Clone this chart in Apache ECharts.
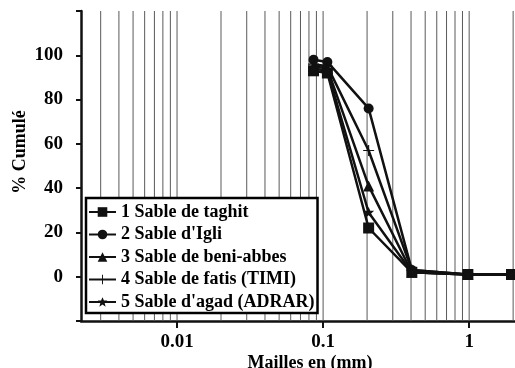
<!DOCTYPE html>
<html>
<head>
<meta charset="utf-8">
<script src="https://cdn.jsdelivr.net/npm/echarts@6/dist/echarts.min.js"></script>
<style>
  html, body { margin: 0; padding: 0; background: #fff; }
  #chart { width: 515px; height: 368px; }
</style>
</head>
<body>
<div id="chart"></div>
<script>
// tamis (mm) et pourcentages cumulés
const sizes = [0.086, 0.107, 0.205, 0.405, 0.98, 1.95]
const taghit = [93, 92, 22, 2, 1, 1]
const igli = [98, 97, 76, 3, 1, 1]
const beniAbbes = [95, 94, 41, 2, 1, 1]
const fatis = [96, 95, 57, 3, 1, 1]
const agad = [94, 93, 29, 2, 1, 1]

const seriesNames = [
  '1 Sable de taghit',
  "2 Sable d'Igli",
  '3 Sable de beni-abbes',
  '4 Sable de fatis (TIMI)',
  "5 Sable d'agad (ADRAR)",
]

// lignes verticales du papier log
const gridLines = [
  0.003, 0.004, 0.005, 0.006, 0.007, 0.008, 0.009,
  0.01, 0.02, 0.03, 0.04, 0.05, 0.06, 0.07, 0.08, 0.09,
  0.1, 0.2, 0.3, 0.4, 0.5, 0.6, 0.7, 0.8, 0.9,
  1, 2,
]

const font = "'Liberation Serif', 'Times New Roman', serif"
const ink = '#111'

const plusPath = 'path://M-1,-10H1V-1H10V1H1V10H-1V1H-10V-1H-1Z'
const starPath = 'path://M0,-10L3,-3L10,-3L4.5,2L6.5,10L0,5L-6.5,10L-4.5,2L-10,-3L-3,-3Z'

const symbols = [
  { symbol: 'rect', size: 11 },
  { symbol: 'circle', size: 10 },
  { symbol: 'triangle', size: 11 },
  { symbol: plusPath, size: 11 },
  { symbol: starPath, size: 11 },
]

const allValues = [taghit, igli, beniAbbes, fatis, agad]

const chart = echarts.init(document.getElementById('chart'), null, { renderer: 'canvas' })

const isDecade = (v) => Math.abs(Math.log10(v) - Math.round(Math.log10(v))) < 1e-6

// grille verticale : un trait par valeur, sur toute la hauteur de l'axe y
const gridSeries = gridLines.map((v) => ({
  type: 'line',
  data: [[v, -20], [v, 120]],
  symbol: 'none',
  silent: true,
  lineStyle: { color: '#5a5a5a', width: 1 },
  z: 1,
}))

const dataSeries = allValues.map((vals, i) => ({
  name: seriesNames[i],
  type: 'line',
  data: sizes.map((s, k) => [s, vals[k]]),
  symbol: symbols[i].symbol,
  symbolSize: symbols[i].size,
  showAllSymbol: true,
  lineStyle: { color: ink, width: 2.5 },
  itemStyle: { color: ink, borderColor: ink, borderWidth: 0 },
  z: 3 + i,
}))

const option = {
  animation: false,
  backgroundColor: '#fff',
  textStyle: { fontFamily: font, color: '#000' },
  grid: { left: 81, right: 0, top: 11, bottom: 47, containLabel: false, outerBoundsMode: 'none' },
  legend: {
    orient: 'vertical',
    left: 86,
    top: 198,
    data: seriesNames,
    backgroundColor: '#fff',
    borderColor: '#000',
    borderWidth: 2.5,
    padding: [5, 3, 2, 2],
    itemWidth: 27,
    itemHeight: 12,
    itemGap: 4.5,
    textStyle: { fontFamily: font, fontSize: 18, fontWeight: 'bold', color: '#000', lineHeight: 18 },
    z: 10,
  },
  xAxis: {
    type: 'log',
    logBase: 10,
    min: 0.0022,
    max: 2.06,
    name: 'Mailles en (mm)',
    nameLocation: 'middle',
    nameGap: 33,
    nameMoveOverlap: false,
    nameTextStyle: { fontFamily: font, fontSize: 18, fontWeight: 'bold', color: '#000', padding: [0, 0, 0, 24] },
    axisLine: { show: true, onZero: false, lineStyle: { color: ink, width: 2.5 } },
    axisTick: { show: true, inside: false, length: 7, lineStyle: { color: ink, width: 2 } },
    axisLabel: {
      fontFamily: font,
      fontSize: 19,
      fontWeight: 'bold',
      color: '#000',
      margin: 12,
      showMinLabel: false,
      showMaxLabel: false,
      formatter: (v) => (isDecade(v) ? String(+v.toPrecision(6)) : ''),
    },
    splitLine: { show: false },
    minorTick: { show: false },
  },
  yAxis: {
    type: 'value',
    min: -20,
    max: 120,
    interval: 20,
    name: '% Cumulé',
    nameLocation: 'middle',
    nameGap: 52,
    nameMoveOverlap: false,
    nameRotate: 90,
    nameTextStyle: { fontFamily: font, fontSize: 18, fontWeight: 'bold', color: '#000', padding: [0, 0, 0, 28] },
    axisLine: { show: true, lineStyle: { color: ink, width: 2.5 } },
    axisTick: { show: true, inside: false, length: 5, lineStyle: { color: ink, width: 2 } },
    axisLabel: {
      fontFamily: font,
      fontSize: 19,
      fontWeight: 'bold',
      color: '#000',
      margin: 18,
      formatter: (v) => (v < 0 || v > 100 ? '' : String(v)),
    },
    splitLine: { show: false },
  },
  series: [...gridSeries, ...dataSeries],
}

chart.setOption(option)

window.addEventListener('resize', () => {
  chart.resize()
})
</script>
</body>
</html>
